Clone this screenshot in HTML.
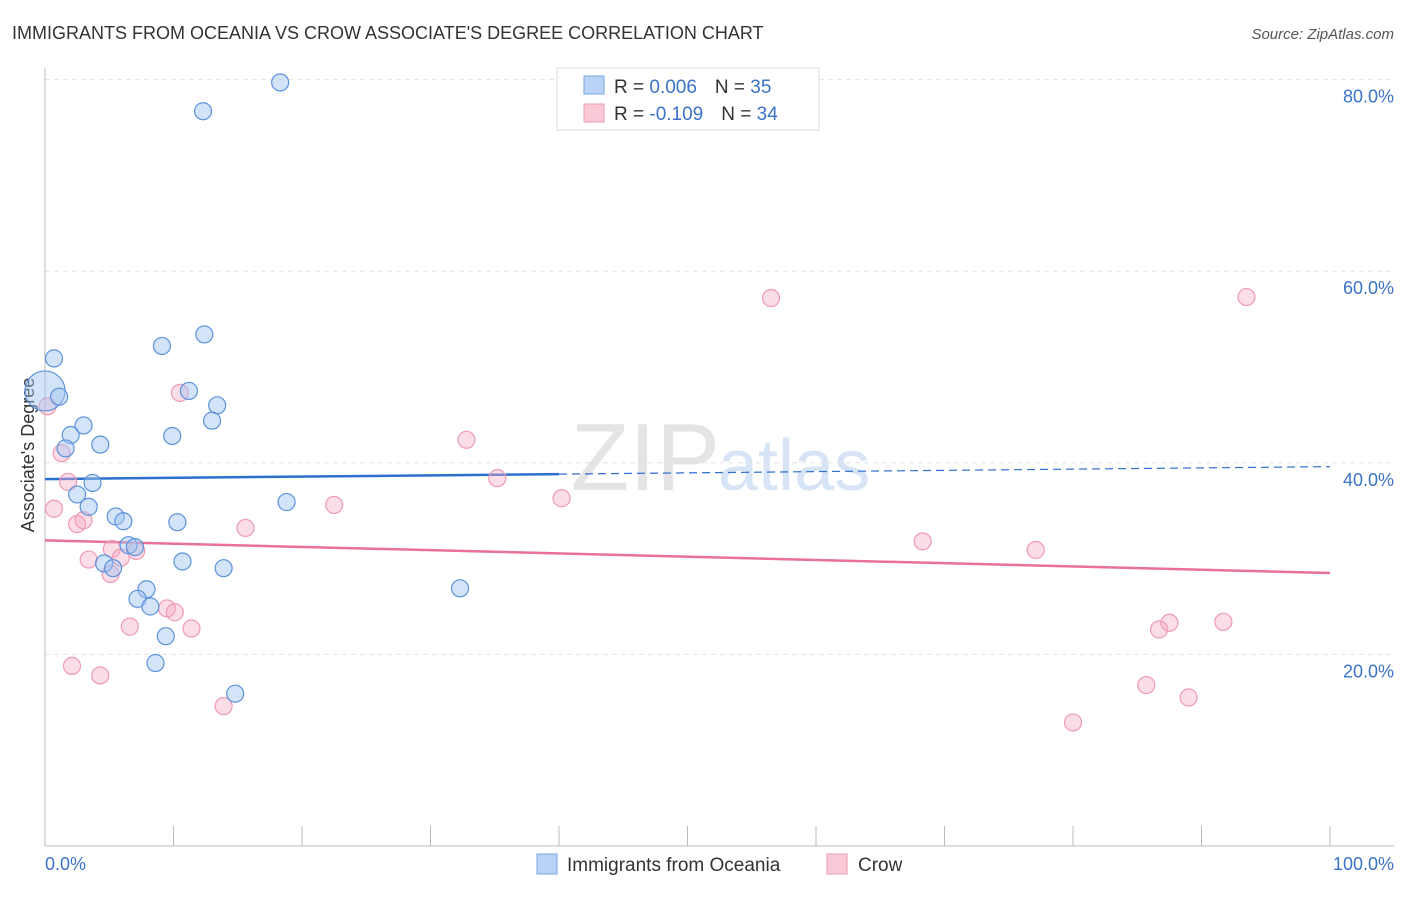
<!DOCTYPE html>
<html><head><meta charset="utf-8"><style>
body{margin:0;background:#fff;font-family:"Liberation Sans",sans-serif;}
svg text{font-family:"Liberation Sans",sans-serif;}
</style></head><body>
<svg id="chart" width="1406" height="892" xmlns="http://www.w3.org/2000/svg">
<text x="12" y="39" font-size="18" fill="#333">IMMIGRANTS FROM OCEANIA VS CROW ASSOCIATE'S DEGREE CORRELATION CHART</text>
<text x="1394" y="39" font-size="15" fill="#555" font-style="italic" text-anchor="end">Source: ZipAtlas.com</text>
<text x="720" y="490" font-size="96" fill="#e4e4e4" text-anchor="end" font-family="Liberation Serif">ZIP</text>
<text x="718" y="490" font-size="72" fill="#d6e4f5">atlas</text>
<g id="grid"></g>
<line x1="45" y1="68" x2="45" y2="846" stroke="#bbb"/>
<line x1="45" y1="846" x2="1394" y2="846" stroke="#bbb"/>
<text transform="translate(34,455) rotate(-90)" font-size="18" fill="#333" text-anchor="middle">Associate's Degree</text>
<text x="45" y="870" font-size="18" fill="#3b73c8">0.0%</text>
<text x="1394" y="870" font-size="18" fill="#3b73c8" text-anchor="end">100.0%</text>
<g id="trends"></g>
<g id="points"></g>
<g>
<rect x="557" y="68" width="262" height="62" fill="#fff" stroke="#ddd"/>
<rect x="584" y="76" width="20" height="18" fill="#b8d3f5" stroke="#7aa7e0"/>
<text x="614" y="93" font-size="19" fill="#333">R = <tspan fill="#3b73c8">0.006</tspan><tspan dx="18">N = </tspan><tspan fill="#3b73c8">35</tspan></text>
<rect x="584" y="104" width="20" height="18" fill="#f9c9d7" stroke="#ef9ab3"/>
<text x="614" y="120" font-size="19" fill="#333">R = <tspan fill="#3b73c8">-0.109</tspan><tspan dx="18">N = </tspan><tspan fill="#3b73c8">34</tspan></text>
</g>
<g>
<rect x="537" y="854" width="20" height="20" fill="#b8d3f5" stroke="#7aa7e0"/>
<text x="567" y="871" font-size="19" fill="#333">Immigrants from Oceania</text>
<rect x="827" y="854" width="20" height="20" fill="#f9c9d7" stroke="#ef9ab3"/>
<text x="858" y="871" font-size="19" fill="#333">Crow</text>
</g>
</svg>
<script>
const yTicks=[20,40,60,80];
const yTickLabels=["20.0%","40.0%","60.0%","80.0%"];
const xTicks=[10,20,30,40,50,60,70,80,90,100];
const oceaniaX=[18.3,12.3,0.7,0,1.1,9.1,12.4,11.2,13.4,13.0,3.0,2.0,1.6,4.3,9.9,3.7,2.5,3.4,18.8,5.5,6.1,10.3,6.5,7.0,10.7,4.6,5.3,13.9,7.9,32.3,7.2,8.2,9.4,8.6,14.8];
const oceaniaY=[79.7,76.7,50.9,47.5,46.9,52.2,53.4,47.5,46.0,44.4,43.9,42.9,41.5,41.9,42.8,37.9,36.7,35.4,35.9,34.4,33.9,33.8,31.4,31.2,29.7,29.5,29.0,29.0,26.8,26.9,25.8,25.0,21.9,19.1,15.9];
const crowX=[0.2,0.7,1.8,10.5,32.8,35.2,40.2,22.5,15.6,1.3,2.5,3.0,5.2,3.4,5.9,7.1,5.1,9.5,10.1,6.6,11.4,2.1,4.3,13.9,56.5,93.5,68.3,77.1,86.7,87.5,91.7,85.7,89.0,80.0];
const crowY=[45.9,35.2,38.0,47.3,42.4,38.4,36.3,35.6,33.2,41.0,33.6,34.0,31.0,29.9,30.1,30.8,28.4,24.8,24.4,22.9,22.7,18.8,17.8,14.6,57.2,57.3,31.8,30.9,22.6,23.3,23.4,16.8,15.5,12.9];
const trendOceania=[38.3,39.6];
const trendCrow=[31.9,28.5];

const NS="http://www.w3.org/2000/svg";
const X=v=>45+v*12.85, Y=v=>846-v*9.58;
const grid=document.getElementById('grid');
yTicks.forEach((t,i)=>{
 const l=document.createElementNS(NS,'line');
 l.setAttribute('x1',45);l.setAttribute('x2',1394);l.setAttribute('y1',Y(t));l.setAttribute('y2',Y(t));
 l.setAttribute('stroke','#e2e2e2');l.setAttribute('stroke-dasharray','5,4');
 
 
 grid.appendChild(l);
 const tx=document.createElementNS(NS,'text');
 tx.setAttribute('x',1394);tx.setAttribute('y',Y(t)+23);tx.setAttribute('text-anchor','end');
 tx.setAttribute('font-size','18');tx.setAttribute('fill','#3b73c8');tx.textContent=yTickLabels[i];
 
 
 grid.appendChild(tx);
});
xTicks.forEach(t=>{
 const l=document.createElementNS(NS,'line');
 l.setAttribute('x1',X(t));l.setAttribute('x2',X(t));l.setAttribute('y1',826);l.setAttribute('y2',846);
 l.setAttribute('stroke','#bbb');
 
 
 grid.appendChild(l);
});
const tr=document.getElementById('trends');
function line(x1,y1,x2,y2,c,dash,name){
 const l=document.createElementNS(NS,'line');
 l.setAttribute('x1',X(x1));l.setAttribute('y1',Y(y1));l.setAttribute('x2',X(x2));l.setAttribute('y2',Y(y2));
 l.setAttribute('stroke',c);l.setAttribute('stroke-width',dash?1.2:2.5);if(dash)l.setAttribute('stroke-dasharray','8,5');
 
 
 tr.appendChild(l);
}
const bAt=x=>trendOceania[0]+(trendOceania[1]-trendOceania[0])*x/100;
line(0,bAt(0),40,bAt(40),'#2f6fd0',false,'trend-oceania');
line(40,bAt(40),100,bAt(100),'#2f6fd0',true,'trend-oceania-extension');
line(0,trendCrow[0],100,trendCrow[1],'#e8709a',false,'trend-crow');
const pts=document.getElementById('points');
function dots(xs,ys,fill,stroke,name,bigIdx){
 xs.forEach((x,i)=>{
  const c=document.createElementNS(NS,'circle');
  c.setAttribute('cx',X(x));c.setAttribute('cy',Y(ys[i]));c.setAttribute('r',i===bigIdx?20:8.5);
  c.setAttribute('fill',fill);c.setAttribute('stroke',stroke);c.setAttribute('stroke-width',1.2);
  
  
  pts.appendChild(c);
 });
}
dots(crowX,crowY,'rgba(245,170,195,0.4)','#ef9ab3','point-crow',-1);
dots(oceaniaX,oceaniaY,'rgba(160,196,240,0.45)','#5b92dc','point-oceania',3);
</script>
</body></html>
